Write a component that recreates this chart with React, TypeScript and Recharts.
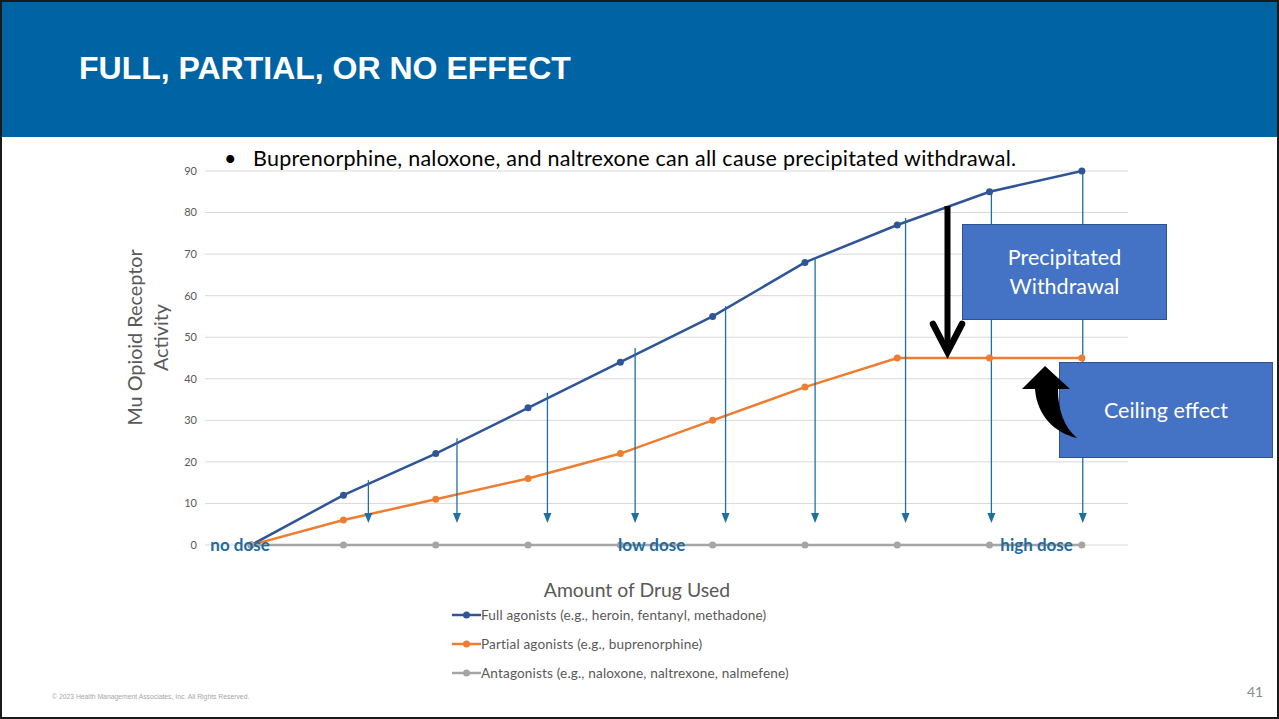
import React from 'react';
import {
  CartesianGrid,
  Legend,
  Line,
  LineChart,
  ReferenceDot,
  ReferenceLine,
  XAxis,
  YAxis,
} from 'recharts';

// dose steps along the x axis (no dose -> high dose)
const doseSteps = [0, 1, 2, 3, 4, 5, 6, 7, 8, 9];
const fullAgonists = [0, 12, 22, 33, 44, 55, 68, 77, 85, 90];
const partialAgonists = [0, 6, 11, 16, 22, 30, 38, 45, 45, 45];
const antagonists = [0, 0, 0, 0, 0, 0, 0, 0, 0, 0];
const yTicks = [0, 10, 20, 30, 40, 50, 60, 70, 80, 90];

const seriesNames = [
  'Full agonists (e.g., heroin, fentanyl, methadone)',
  'Partial agonists (e.g., buprenorphine)',
  'Antagonists (e.g., naloxone, naltrexone, nalmefene)',
];

// thin blue "drop" arrows
const arrowX = [1.27, 2.23, 3.21, 4.16, 5.14, 6.11, 7.09, 8.02, 9.01];
const arrowTop = [15.6, 25.7, 36.6, 47.4, 57.5, 69, 78.7, 85.4, 89.8];
const arrowTip = 5.3;

const doseLabels = ['no dose', 'low dose', 'high dose'];
const doseLabelX = [-0.12, 4.34, 8.51];

const data = doseSteps.map((step, i) => ({
  step,
  full: fullAgonists[i],
  partial: partialAgonists[i],
  antagonist: antagonists[i],
}));

const GRAY = '#595959';
const ARROW_BLUE = '#1F6FA3';
const FONT = 'Lato, "Open Sans", sans-serif';

const DropArrow = (props: any) => {
  const { x1, y1, x2, y2 } = props;
  const head = 10;
  return (
    <g>
      <line x1={x1} y1={y1} x2={x2} y2={y2 - head + 1} stroke={ARROW_BLUE} strokeWidth={1.3} />
      <polygon
        points={`${x2 - 4},${y2 - head} ${x2 + 4},${y2 - head} ${x2},${y2}`}
        fill={ARROW_BLUE}
      />
    </g>
  );
};

const YTitle = ({ viewBox }: any) => {
  const cy = viewBox.y + viewBox.height / 2 - 20.5;
  const lines = ['Mu Opioid Receptor', 'Activity'];
  const baseX = [142, 168];
  return (
    <g>
      {lines.map((t, i) => (
        <text
          key={t}
          x={baseX[i]}
          y={cy}
          transform={`rotate(-90, ${baseX[i]}, ${cy})`}
          textAnchor="middle"
          fill={GRAY}
          fontSize={19.8}
          fontFamily={FONT}
        >
          {t}
        </text>
      ))}
    </g>
  );
};

const LegendList = ({ payload }: any) => {
  const items = [...(payload || [])].sort(
    (a: any, b: any) => seriesNames.indexOf(a.value) - seriesNames.indexOf(b.value),
  );
  return (
    <div>
      {items.map((entry: any) => (
        <div key={entry.value} style={{ display: 'flex', alignItems: 'center', height: 29 }}>
          <svg width={29} height={10}>
            <line x1={0} y1={5} x2={29} y2={5} stroke={entry.color} strokeWidth={2.5} />
            <circle cx={14.5} cy={5} r={3.5} fill={entry.color} />
          </svg>
          <span
            style={{
              fontFamily: FONT,
              fontSize: 13.6,
              letterSpacing: 0.15,
              color: GRAY,
              whiteSpace: 'nowrap',
            }}
          >
            {entry.value}
          </span>
        </div>
      ))}
    </div>
  );
};

export default function App() {
  return (
    <div
      style={{
        position: 'fixed',
        left: 0,
        top: 0,
        width: 1279,
        height: 719,
        background: '#fff',
        overflow: 'hidden',
        fontFamily: FONT,
      }}
    >
      <div style={{ position: 'absolute', left: 0, top: 0, width: 1279, height: 137, background: '#0064A4' }} />
      <div
        style={{
          position: 'absolute',
          left: 79,
          top: 52,
          fontFamily: '"Liberation Sans", Arial, sans-serif',
          fontWeight: 700,
          fontSize: 32,
          lineHeight: 1,
          color: '#fff',
          whiteSpace: 'nowrap',
        }}
      >
        FULL, PARTIAL, OR NO EFFECT
      </div>

      <div style={{ position: 'absolute', left: 0, top: 0 }}>
        <LineChart
          width={1279}
          height={719}
          data={data}
          margin={{ top: 171, right: 151, bottom: 174, left: 145 }}
        >
          <CartesianGrid vertical={false} stroke="#D9D9D9" />
          <XAxis dataKey="step" type="number" domain={[-0.5, 9.5]} hide />
          <YAxis
            width={60}
            domain={[0, 90]}
            ticks={yTicks}
            tickLine={false}
            axisLine={false}
            tick={{ fontSize: 11, fill: GRAY, fontFamily: FONT }}
            label={{ content: YTitle }}
          />
          <Line
            dataKey="full"
            name={seriesNames[0]}
            stroke="#2F5597"
            strokeWidth={2.5}
            dot={{ r: 3.5, fill: '#2F5597', stroke: 'none' }}
            isAnimationActive={false}
          />
          <Line
            dataKey="partial"
            name={seriesNames[1]}
            stroke="#ED7D31"
            strokeWidth={2.5}
            dot={{ r: 3.5, fill: '#ED7D31', stroke: 'none' }}
            isAnimationActive={false}
          />
          <Line
            dataKey="antagonist"
            name={seriesNames[2]}
            stroke="#A5A5A5"
            strokeWidth={2.5}
            dot={{ r: 3.5, fill: '#A5A5A5', stroke: 'none' }}
            isAnimationActive={false}
          />
          {arrowX.map((ax, i) => (
            <ReferenceLine
              key={`arrow-${i}`}
              segment={[
                { x: ax, y: arrowTop[i] },
                { x: ax, y: arrowTip },
              ]}
              shape={DropArrow}
            />
          ))}
          {doseLabels.map((label, i) => (
            <ReferenceDot
              key={label}
              x={doseLabelX[i]}
              y={0}
              r={0}
              stroke="none"
              label={{
                value: label,
                position: 'center',
                fill: '#1F6B9D',
                fontSize: 17,
                fontWeight: 700,
                fontFamily: FONT,
              }}
            />
          ))}
          <Legend
            layout="vertical"
            align="center"
            verticalAlign="middle"
            wrapperStyle={{ left: 452, top: 600, width: 420 }}
            content={LegendList}
          />
        </LineChart>
      </div>

      <div
        style={{
          position: 'absolute',
          left: 224,
          top: 144,
          fontSize: 21.5,
          letterSpacing: 0.25,
          color: '#000',
          whiteSpace: 'nowrap',
          lineHeight: '28px',
        }}
      >
        <span style={{ display: 'inline-block', width: 29 }}>•</span>
        Buprenorphine, naloxone, and naltrexone can all cause precipitated withdrawal.
      </div>

      <div
        style={{
          position: 'absolute',
          left: 437,
          width: 400,
          top: 578,
          textAlign: 'center',
          fontSize: 19.4,
          color: GRAY,
          lineHeight: '24px',
        }}
      >
        Amount of Drug Used
      </div>

      <div
        style={{
          position: 'absolute',
          left: 962,
          top: 224,
          width: 205,
          height: 96,
          boxSizing: 'border-box',
          background: '#4472C4',
          border: '1px solid #2F528F',
          color: '#fff',
          fontSize: 21.5,
          lineHeight: '29px',
          display: 'flex',
          alignItems: 'center',
          justifyContent: 'center',
          textAlign: 'center',
        }}
      >
        Precipitated
        <br />
        Withdrawal
      </div>
      <div
        style={{
          position: 'absolute',
          left: 1059,
          top: 362,
          width: 214,
          height: 96,
          boxSizing: 'border-box',
          background: '#4472C4',
          border: '1px solid #2F528F',
          color: '#fff',
          fontSize: 21.5,
          display: 'flex',
          alignItems: 'center',
          justifyContent: 'center',
        }}
      >
        Ceiling effect
      </div>

      <svg
        width={1279}
        height={719}
        style={{ position: 'absolute', left: 0, top: 0, pointerEvents: 'none' }}
      >
        <line x1={947.5} y1={206} x2={947.5} y2={348} stroke="#000" strokeWidth={6} />
        <polyline
          points="933,324 947.5,352 962,324"
          fill="none"
          stroke="#000"
          strokeWidth={6.5}
          strokeLinecap="round"
        />
        <path
          d="M1045,366 L1070,389 L1058,389 C1058,410 1064,427 1077,438 C1055,433 1037,416 1035,389 L1022,389 Z"
          fill="#000"
        />
      </svg>

      <div
        style={{
          position: 'absolute',
          left: 52,
          top: 693,
          fontFamily: '"Liberation Sans", Arial, sans-serif',
          fontSize: 6.8,
          color: '#A6A6A6',
          whiteSpace: 'nowrap',
        }}
      >
        © 2023 Health Management Associates, Inc. All Rights Reserved.
      </div>
      <div style={{ position: 'absolute', left: 1247, top: 683, fontSize: 14, color: '#8C8C8C' }}>41</div>

      <div
        style={{
          position: 'absolute',
          left: 0,
          top: 0,
          width: 1279,
          height: 719,
          boxSizing: 'border-box',
          border: '2px solid #1A1A1A',
          pointerEvents: 'none',
        }}
      />
    </div>
  );
}
